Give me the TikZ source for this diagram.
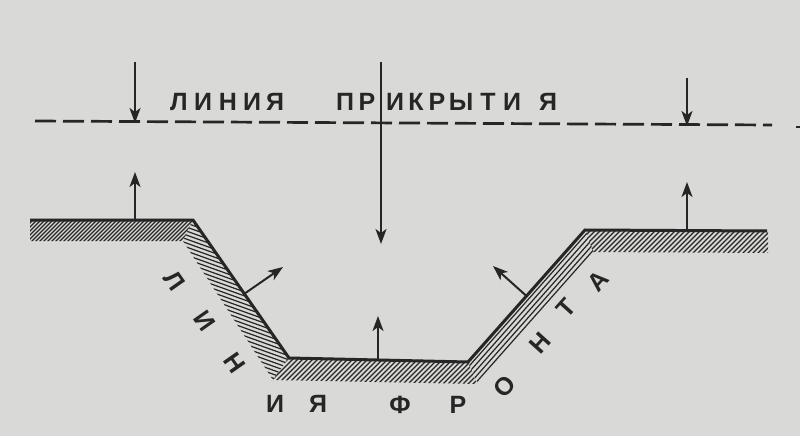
\documentclass[tikz,border=0pt]{standalone}
\usepackage{fontspec}
\setmainfont{Liberation Sans}
\usetikzlibrary{arrows.meta,calc}
\definecolor{paper}{RGB}{217,217,215}
\definecolor{ink}{RGB}{38,38,38}
\tikzset{
  outline/.style={draw=ink,line width=3pt,line join=miter},
  hatchline/.style={draw=ink,line width=1.2pt},
  normalarrow/.style={draw=ink,line width=2pt,-{Stealth[length=15pt,width=11pt,inset=4pt]}},
  coverline/.style={draw=ink,line width=2.7pt,dash pattern=on 21pt off 7pt},
  lbl/.style={text=ink,font=\fontsize{25}{25}\selectfont\bfseries,inner sep=0pt,text height=17.9pt,text depth=0pt,anchor=center}
}
\begin{document}
\begin{tikzpicture}[x=1pt,y=-1pt]
\fill[paper] (0,0) rectangle (800,436);
\useasboundingbox (0,0) rectangle (800,436);

% profile points
\coordinate (A) at (30,220);
\coordinate (B) at (193,220);
\coordinate (C) at (289,358);
\coordinate (D) at (468,362);
\coordinate (E) at (585,230);
\coordinate (F) at (767,231);

% hatching: left top band
\begin{scope}
  \clip (30,219) -- (193,219) -- (183,241) -- (30,241) -- cycle;
  \foreach \x in {0,4,...,200} \draw[hatchline] (\x,245) -- (\x+28,217);
\end{scope}
% hatching: left slope
\begin{scope}
  \clip (193,219) -- (289,357) -- (273,380) -- (183,241) -- cycle;
  \foreach \y in {186,190,...,350} \draw[hatchline] (150,\y) -- (320,\y+61);
\end{scope}
% hatching: bottom
\begin{scope}
  \clip (289,357) -- (468,361) -- (477,384) -- (273,380) -- cycle;
  \foreach \x in {236,241,...,480} \draw[hatchline] (\x,386) -- (\x+30,356);
\end{scope}
% hatching: right slope (parallel lines)
\begin{scope}
  \clip (466,358) -- (585,229) -- (594,253) -- (478,384) -- cycle;
  \foreach \k in {3.5,7.5,11.5,15.5,19.5} \draw[hatchline] ($(D)+(0.75*\k,0.665*\k)+(-23,26)$) -- ++(164,-185);
\end{scope}
% hatching: right top band
\begin{scope}
  \clip (585,229) -- (768,230) -- (768,253) -- (593,252) -- cycle;
  \foreach \x in {560,565,...,780} \draw[hatchline] (\x,256) -- (\x+28,228);
\end{scope}

% front line
\draw[outline] (A) -- (B) -- (C) -- (D) -- (E) -- (F);

% cover line (dashed)
\coordinate (L1) at (35,121);
\coordinate (L2) at (772,125);
\coordinate (L3) at (796,127);
\coordinate (L4) at (800,127);
\draw[coverline] (L1) -- (L2);
\draw[draw=ink,line width=2.7pt] (L3) -- (L4);

% downward arrows
\coordinate (d1s) at (135,62);  \coordinate (d1e) at (135,123);
\coordinate (d2s) at (381,62);  \coordinate (d2e) at (381,244);
\coordinate (d3s) at (687,78);  \coordinate (d3e) at (687,126);
\draw[normalarrow] (d1s) -- (d1e);
\draw[normalarrow] (d2s) -- (d2e);
\draw[normalarrow] (d3s) -- (d3e);

% outward arrows from the front line
\coordinate (u1s) at (135,220);   \coordinate (u1e) at (135,172);
\coordinate (u2s) at (244,294);   \coordinate (u2e) at (283,267);
\coordinate (u3s) at (378,360);   \coordinate (u3e) at (378,316);
\coordinate (u4s) at (526.5,296); \coordinate (u4e) at (493,266);
\coordinate (u5s) at (687,231);   \coordinate (u5e) at (687,182);
\draw[normalarrow] (u1s) -- (u1e);
\draw[normalarrow] (u2s) -- (u2e);
\draw[normalarrow] (u3s) -- (u3e);
\draw[normalarrow] (u4s) -- (u4e);
\draw[normalarrow] (u5s) -- (u5e);

% ЛИНИЯ ПРИКРЫТИЯ
\foreach \c/\x in {Л/179,И/203,Н/228,И/252,Я/275,П/345,Р/367,И/395,К/416,Р/437,Ы/461,Т/488,И/512,Я/548}
  \node[lbl] (t\x) at (\x,102) {\c};

% ЛИНИЯ ФРОНТА
\node[lbl,rotate=-55] (f1) at (175,281) {Л};
\node[lbl,rotate=-55] (f2) at (205,321) {И};
\node[lbl,rotate=-55] (f3) at (235,363) {Н};
\node[lbl] (f4) at (275,404) {И};
\node[lbl] (f5) at (318,404) {Я};
\node[lbl] (f6) at (400,405) {Ф};
\node[lbl] (f7) at (458,405) {Р};
\node[lbl,rotate=48] (f8) at (504,386) {О};
\node[lbl,rotate=48] (f9) at (540,343) {Н};
\node[lbl,rotate=48] (f10) at (566,308) {Т};
\node[lbl,rotate=48] (f11) at (598,281) {А};
\end{tikzpicture}
\end{document}
